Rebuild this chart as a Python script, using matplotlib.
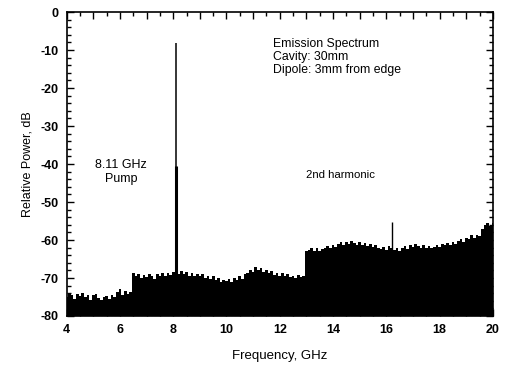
import numpy as np
import matplotlib
matplotlib.use("Agg")
import matplotlib.pyplot as plt
from matplotlib.ticker import MultipleLocator, FuncFormatter

plt.rcParams['font.family'] = ['Liberation Sans', 'DejaVu Sans']
plt.rcParams['axes.unicode_minus'] = False

# Noise floor of the emission spectrum (dB), sampled every 0.1 GHz from 4.0 to 20.0 GHz
noise_db = [
    -75, -74, -74.5, -75.5, -74.2, -74.8, -74, -75, -74.5, -75.8,            # 4.0-4.9
    -74.6, -74.2, -75.2, -75.8, -75, -74.8, -75.5, -74.4, -74.9, -73.8,      # 5.0-5.9
    -73, -74.5, -73.5, -74.2, -73.8, -68.8, -69.5, -69, -70, -69.2,          # 6.0-6.9
    -69.8, -69, -69.6, -70.2, -69, -69.5, -68.8, -69.4, -68.6, -69.2,        # 7.0-7.9
    -68.5, -68.5, -69, -68.2, -69, -68.4, -69.5, -68.8, -69.6, -69,          # 8.0-8.9
    -69.5, -69, -70, -69.4, -70.2, -69.6, -70.5, -70, -71, -70.4,            # 9.0-9.9
    -70.8, -70.2, -71, -70, -70.6, -69.6, -70.2, -69, -68.6, -67.8,          # 10.0-10.9
    -68.4, -67.2, -68, -67.4, -68.4, -67.8, -68.6, -68.2, -69.2, -68.6,      # 11.0-11.9
    -69.4, -68.8, -69.6, -69, -69.8, -69.4, -70, -69.2, -69.8, -69.5,        # 12.0-12.9
    -62.8, -62.5, -62, -62.8, -62.2, -63, -62.4, -62, -61.6, -62.2,          # 13.0-13.9
    -61.4, -61.8, -61, -60.6, -61.2, -60.4, -61, -60.2, -60.8, -61.4,        # 14.0-14.9
    -60.6, -61.2, -60.8, -61.6, -61, -61.8, -61.4, -62, -62.4, -61.8,        # 15.0-15.9
    -62.5, -61.6, -62.2, -62.6, -62, -62.8, -62.2, -61.6, -62.4, -61.2,      # 16.0-16.9
    -61.8, -61, -61.6, -62.2, -61.4, -62, -61.6, -62.2, -61.8, -61.2,        # 17.0-17.9
    -61.8, -61, -61.4, -60.8, -61.2, -60.4, -61, -60.2, -59.8, -60.4,        # 18.0-18.9
    -59.4, -59.8, -58.8, -59.4, -58.6, -59, -57.2, -56, -55.6, -56.2,        # 19.0-19.9
    -55.4,                                                                   # 20.0
]
freq_ghz = np.round(np.linspace(4.0, 20.0, len(noise_db)), 2)

# Discrete lines
pump_freq = 8.11
pump_peak_db = -8.2
pump_skirt_db = -40.5
harmonic_freq = 16.22
harmonic_db = -55.2

fig = plt.figure(figsize=(5.05, 3.67), dpi=100)
ax = fig.add_axes([0.132, 0.139, 0.844, 0.828])

ax.fill_between(freq_ghz, -80, noise_db, step='mid', color='black', linewidth=0)
ax.vlines(pump_freq, -80, pump_peak_db, color='black', linewidth=1.1)
ax.vlines(pump_freq, -80, pump_skirt_db, color='black', linewidth=2.2)
ax.vlines(harmonic_freq, -80, harmonic_db, color='black', linewidth=1.0)

ax.set_xlim(4, 20)
ax.set_ylim(-80, 0)
ax.xaxis.set_major_locator(MultipleLocator(1))
ax.xaxis.set_minor_locator(MultipleLocator(0.5))
ax.xaxis.set_major_formatter(FuncFormatter(lambda v, p: f"{int(round(v))}" if int(round(v)) % 2 == 0 else ""))
ax.yaxis.set_major_locator(MultipleLocator(10))
ax.yaxis.set_minor_locator(MultipleLocator(2))
ax.yaxis.set_major_formatter(FuncFormatter(lambda v, p: f"{int(round(v))}"))
ax.tick_params(which='both', direction='in', top=True, right=True, width=1.0, colors='black')
ax.tick_params(which='major', length=5)
ax.tick_params(which='minor', length=3)
ax.tick_params(axis='both', which='major', labelsize=9, pad=6)
for lab in ax.get_xticklabels() + ax.get_yticklabels():
    lab.set_fontweight('bold')
for s in ax.spines.values():
    s.set_linewidth(1.2)

ax.set_xlabel("Frequency, GHz", fontsize=9.5, labelpad=10)
ax.set_ylabel("Relative Power, dB", fontsize=9, labelpad=5)

ax.text(11.75, -6.8, "Emission Spectrum\nCavity: 30mm\nDipole: 3mm from edge",
        fontsize=8.8, va='top', ha='left', linespacing=1.12)
ax.text(6.05, -42.0, "8.11 GHz\nPump", fontsize=9, ha='center', va='center', linespacing=1.2)
ax.text(13.0, -42.8, "2nd harmonic", fontsize=8.2, ha='left', va='center')

fig.savefig("out.png", dpi=100)
